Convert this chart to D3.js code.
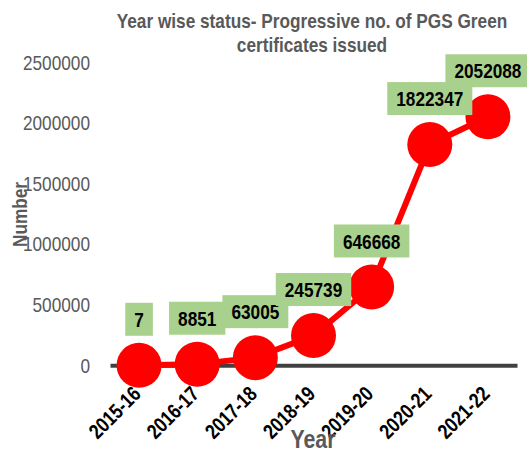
<!DOCTYPE html>
<html>
<head>
<meta charset="utf-8">
<script src="https://cdn.jsdelivr.net/npm/d3@7"></script>
<style>
  body { margin: 0; background: #fff; }
  svg text { font-family: "Liberation Sans", Arial, sans-serif; }
</style>
</head>
<body>
<div id="chart"></div>
<script>
const years = ["2015-16", "2016-17", "2017-18", "2018-19", "2019-20", "2020-21", "2021-22"];
const certificates = [7, 8851, 63005, 245739, 646668, 1822347, 2052088];
const yTicks = [0, 500000, 1000000, 1500000, 2000000, 2500000];
const titleLines = ["Year wise status- Progressive no. of PGS Green", "certificates issued"];

const w = 527;
const h = 455;
const data = years.map((y, i) => ({year: y, value: certificates[i]}));

// the original uses a narrow font; squeeze Liberation Sans to ~82%
function narrow(sel) {
  sel.each(function() {
    const len = this.getComputedTextLength();
    d3.select(this)
      .attr("textLength", len * 0.82)
      .attr("lengthAdjust", "spacingAndGlyphs");
  });
}

const svg = d3.select("#chart")
              .append("svg")
              .attr("width", w)
              .attr("height", h);

const xScale = d3.scaleBand()
                 .domain(years)
                 .range([110, 517]);
const yScale = d3.scaleLinear()
                 .domain([0, 2500000])
                 .range([365.3, 62.5]);

// title
svg.selectAll(".title")
   .data(titleLines)
   .enter()
   .append("text")
   .attr("class", "title")
   .attr("x", 312)
   .attr("y", (d, i) => 28 + i * 24)
   .attr("text-anchor", "middle")
   .style("font-size", "21px")
   .style("font-weight", "bold")
   .style("fill", "#595959")
   .text(d => d)
   .call(narrow);

// y axis (labels only)
const yAxis = d3.axisLeft(yScale)
                .tickValues(yTicks)
                .tickFormat(d => d)
                .tickSize(0)
                .tickPadding(0);
const gy = svg.append("g")
   .attr("transform", "translate(90,0)")
   .attr("id", "y-axis")
   .call(yAxis);
gy.select(".domain").remove();
gy.selectAll("text")
  .style("font-family", "Liberation Sans, Arial, sans-serif")
  .style("font-size", "21px")
  .style("fill", "#595959")
  .call(narrow);

// x axis
const xAxis = d3.axisBottom(xScale).tickSize(0).tickPadding(0);
const gx = svg.append("g")
   .attr("transform", "translate(0,365.3)")
   .attr("id", "x-axis")
   .call(xAxis);
gx.select(".domain")
  .attr("stroke", "#404040")
  .attr("stroke-width", 4);
gx.selectAll("text")
  .attr("text-anchor", "end")
  .attr("dy", 0)
  .attr("y", 0)
  .attr("transform", "translate(3,30) rotate(-45)")
  .style("font-family", "Liberation Sans, Arial, sans-serif")
  .style("font-size", "21px")
  .style("font-weight", "bold")
  .style("fill", "#000")
  .call(narrow);

// axis titles
svg.append("text")
   .attr("x", 313)
   .attr("y", 448)
   .attr("text-anchor", "middle")
   .style("font-size", "26px")
   .style("font-weight", "bold")
   .style("fill", "#595959")
   .text("Year")
   .call(narrow);
svg.append("text")
   .attr("transform", "translate(27,214.5) rotate(-90)")
   .attr("text-anchor", "middle")
   .style("font-size", "21px")
   .style("font-weight", "bold")
   .style("fill", "#595959")
   .text("Number")
   .call(narrow);

// line + points
const line = d3.line()
               .x(d => xScale(d.year) + xScale.bandwidth() / 2)
               .y(d => yScale(d.value));
svg.append("path")
   .datum(data)
   .attr("d", line)
   .attr("fill", "none")
   .attr("stroke", "#ff0000")
   .attr("stroke-width", 6);

svg.selectAll("circle")
   .data(data)
   .enter()
   .append("circle")
   .attr("cx", d => xScale(d.year) + xScale.bandwidth() / 2)
   .attr("cy", d => yScale(d.value))
   .attr("r", 22.5)
   .style("fill", "#ff0000");

// data labels
const labels = svg.selectAll(".label")
   .data(data)
   .enter()
   .append("g")
   .attr("class", "label")
   .attr("transform", d => "translate(" + (xScale(d.year) + xScale.bandwidth() / 2) + "," + (yScale(d.value) - 46) + ")");
labels.append("text")
   .attr("text-anchor", "middle")
   .attr("dy", "0.36em")
   .style("font-size", "21px")
   .style("font-weight", "bold")
   .style("fill", "#000")
   .text(d => d.value)
   .call(narrow);
labels.insert("rect", "text")
   .each(function() {
     const t = this.parentNode.querySelector("text");
     const tw = +t.getAttribute("textLength");
     d3.select(this)
       .attr("x", -tw / 2 - 9)
       .attr("y", -16.5)
       .attr("width", tw + 18)
       .attr("height", 33);
   })
   .style("fill", "#a9d18e");
</script>
</body>
</html>
